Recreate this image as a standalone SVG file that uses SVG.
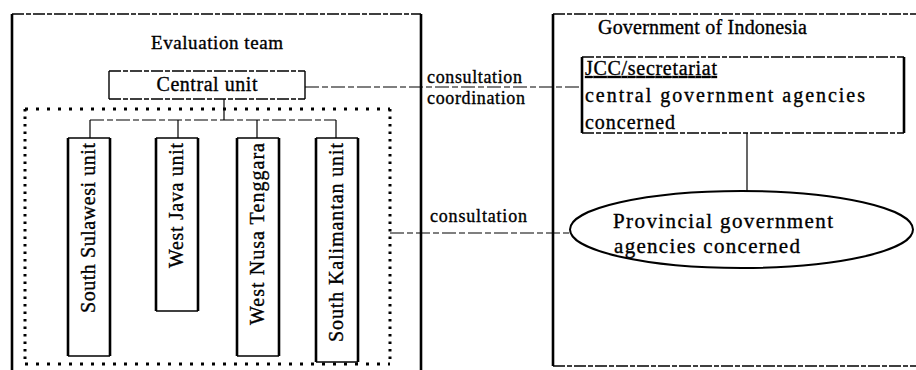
<svg xmlns="http://www.w3.org/2000/svg" width="916" height="370" viewBox="0 0 916 370">
  <style>
    text { font-family: "Liberation Serif", "Times New Roman", serif; font-size: 19px; fill: #000; stroke: #000; stroke-width: 0.35; }
    .unit { font-size: 20px; }
    .label { font-size: 18px; }
    .gov { font-size: 20px; }
    .bold { stroke: #000; stroke-width: 2.6; fill: none; }
    .thin { stroke: #000; stroke-width: 1.4; fill: none; }
    .dash { stroke: #000; stroke-width: 1.3; fill: none; stroke-dasharray: 12 2 5 2; }
    .dotsH { stroke: #000; stroke-width: 3; fill: none; stroke-dasharray: 3 8; }
    .dotsV { stroke: #000; stroke-width: 3; fill: none; stroke-dasharray: 2.5 5; }
    .link { stroke: #000; stroke-width: 1.2; fill: none; }
    .linkDash { stroke: #000; stroke-width: 1.2; fill: none; stroke-dasharray: 14 3 6 3; }
  </style>

  <rect width="916" height="370" fill="#fff"/>

  <!-- Evaluation team frame -->
  <g id="evaluation-team">
    <line class="dash" x1="12" y1="14" x2="421" y2="14"/>
    <line class="bold" x1="12" y1="14" x2="12" y2="372"/>
    <line class="bold" x1="421" y1="14" x2="421" y2="372"/>
    <text x="217" y="49" text-anchor="middle" textLength="132" lengthAdjust="spacing">Evaluation team</text>
  </g>

  <!-- Central unit -->
  <g id="central-unit">
    <line class="dash" x1="109" y1="71" x2="305" y2="71"/>
    <line class="dash" x1="109" y1="99" x2="305" y2="99"/>
    <line class="thin" x1="109" y1="71" x2="109" y2="99"/>
    <line class="thin" x1="305" y1="71" x2="305" y2="99"/>
    <text x="207" y="91" text-anchor="middle" textLength="101" lengthAdjust="spacing" style="font-size:20px">Central unit</text>
  </g>

  <!-- Dotted frame around the regional units -->
  <g id="regional-units">
    <line class="dotsH" x1="25" y1="109" x2="390" y2="109"/>
    <line class="dotsH" x1="25" y1="364" x2="390" y2="364"/>
    <line class="dotsV" x1="25" y1="109" x2="25" y2="364"/>
    <line class="dotsV" x1="390" y1="109" x2="390" y2="364"/>
  </g>

  <g id="south-sulawesi-unit">
    <line class="thin" x1="68" y1="138" x2="110" y2="138"/>
    <line class="thin" x1="68" y1="356" x2="110" y2="356"/>
    <line class="bold" x1="68" y1="138" x2="68" y2="356"/>
    <line class="bold" x1="110" y1="138" x2="110" y2="356"/>
    <text class="unit" transform="translate(95,313) rotate(-90)" textLength="170" lengthAdjust="spacing">South Sulawesi unit</text>
  </g>

  <g id="west-java-unit">
    <line class="thin" x1="156" y1="138" x2="198" y2="138"/>
    <line class="thin" x1="156" y1="311" x2="198" y2="311"/>
    <line class="bold" x1="156" y1="138" x2="156" y2="311"/>
    <line class="bold" x1="198" y1="138" x2="198" y2="311"/>
    <text class="unit" transform="translate(183,268) rotate(-90)" textLength="125" lengthAdjust="spacing">West Java unit</text>
  </g>

  <g id="west-nusa-tenggara-unit">
    <line class="thin" x1="237" y1="138" x2="279" y2="138"/>
    <line class="thin" x1="237" y1="356" x2="279" y2="356"/>
    <line class="bold" x1="237" y1="138" x2="237" y2="356"/>
    <line class="bold" x1="279" y1="138" x2="279" y2="356"/>
    <text class="unit" transform="translate(264,325) rotate(-90)" textLength="182" lengthAdjust="spacing">West Nusa Tenggara</text>
  </g>

  <g id="south-kalimantan-unit">
    <line class="thin" x1="316" y1="138" x2="358" y2="138"/>
    <line class="thin" x1="316" y1="362" x2="358" y2="362"/>
    <line class="bold" x1="316" y1="138" x2="316" y2="362"/>
    <line class="bold" x1="358" y1="138" x2="358" y2="362"/>
    <text class="unit" transform="translate(343,342) rotate(-90)" textLength="199" lengthAdjust="spacing">South Kalimantan unit</text>
  </g>

  <!-- Government of Indonesia frame -->
  <g id="government-of-indonesia">
    <line class="dash" x1="553" y1="14" x2="918" y2="14"/>
    <line class="dash" x1="553" y1="366" x2="918" y2="366"/>
    <line class="bold" x1="553" y1="14" x2="553" y2="366"/>
    <text class="gov" x="598" y="34" textLength="209" lengthAdjust="spacing">Government of Indonesia</text>
  </g>

  <g id="jcc-secretariat">
    <line class="dash" x1="582" y1="57" x2="904" y2="57"/>
    <line class="dash" x1="582" y1="133" x2="904" y2="133"/>
    <line class="bold" x1="582" y1="57" x2="582" y2="133"/>
    <line class="bold" x1="904" y1="57" x2="904" y2="133"/>
    <text class="gov" x="585" y="75" textLength="132" lengthAdjust="spacing" text-decoration="underline">JCC/secretariat</text>
    <text class="gov" x="585" y="102" textLength="280" lengthAdjust="spacing">central government agencies</text>
    <text class="gov" x="585" y="129" textLength="90" lengthAdjust="spacing">concerned</text>
  </g>

  <g id="provincial-agencies">
    <ellipse cx="741.5" cy="229.5" rx="171.5" ry="38.5" fill="none" stroke="#000" stroke-width="2"/>
    <text x="613" y="228" textLength="220" lengthAdjust="spacing" style="font-size:21px">Provincial government</text>
    <text x="614" y="253" textLength="186" lengthAdjust="spacing" style="font-size:21px">agencies concerned</text>
  </g>

  <!-- Connectors -->
  <g id="connectors">
    <!-- central unit to its four regional units -->
    <line class="link" x1="224" y1="99" x2="224" y2="120"/>
    <line class="linkDash" x1="90" y1="120" x2="336" y2="120"/>
    <line class="link" x1="90" y1="120" x2="90" y2="138"/>
    <line class="link" x1="178" y1="120" x2="178" y2="138"/>
    <line class="link" x1="257" y1="120" x2="257" y2="138" stroke-width="2"/>
    <line class="link" x1="336" y1="120" x2="336" y2="138"/>
    <!-- central unit to JCC -->
    <line class="linkDash" x1="305" y1="87" x2="582" y2="87"/>
    <text class="label" x="427" y="83" textLength="95" lengthAdjust="spacing">consultation</text>
    <text class="label" x="427" y="104" textLength="98" lengthAdjust="spacing">coordination</text>
    <!-- JCC to provincial agencies -->
    <line class="link" x1="747" y1="133" x2="747" y2="191"/>
    <!-- regional units to provincial agencies -->
    <line class="linkDash" x1="390" y1="233" x2="570" y2="233"/>
    <text class="label" x="430" y="222" textLength="97" lengthAdjust="spacing">consultation</text>
  </g>
</svg>
